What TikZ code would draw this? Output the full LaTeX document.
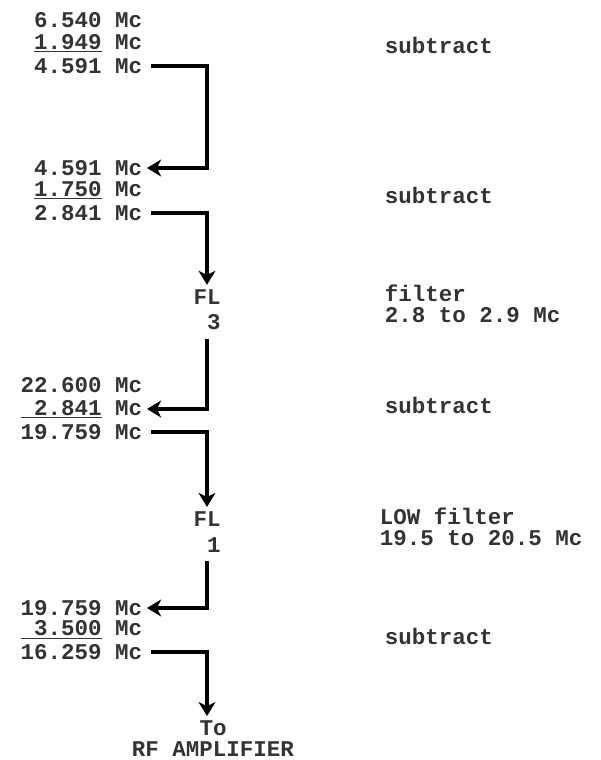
\documentclass[tikz,border=0pt]{standalone}
\usepackage{fontspec}
\newfontfamily\typer{Liberation Mono}
\usetikzlibrary{arrows.meta}
\tikzset{
  num/.style={anchor=east, font=\typer\bfseries\fontsize{16}{18}\selectfont, text=black!80},
  note/.style={anchor=west, align=left, font=\typer\bfseries\fontsize{16}{15}\selectfont, text=black!80},
  filt/.style={align=right, font=\typer\bfseries\fontsize{16}{18}\selectfont, text=black!80},
  flow/.style={line width=2.6pt, line join=miter, shorten <=3pt, -{Stealth[length=10pt,width=12pt,inset=3pt]}}
}

\begin{document}
\begin{tikzpicture}[x=0.025cm, y=-0.025cm]
                \useasboundingbox (0,0) rectangle (600,760);

                % First subtraction
                \node[num] (a1) at (147,20) {6.540 Mc};
                \node[num] (a2) at (147,43) {\underline{1.949} Mc};
                \node[num] (a3) at (147,66) {4.591 Mc};
                \node[note] (s1) at (380,45) {subtract};

                % Second subtraction
                \node[num] (b1) at (147,168) {4.591 Mc};
                \node[num] (b2) at (147,190) {\underline{1.750} Mc};
                \node[num] (b3) at (147,213) {2.841 Mc};
                \node[note] (s2) at (380,195) {subtract};

                % Filter 3
                \node[filt] (fl3) at (207,310) {FL\\3};
                \node[note] (n3) at (380,304) {filter\\2.8 to 2.9 Mc};

                % Third subtraction
                \node[num] (c1) at (147,385) {22.600 Mc};
                \node[num] (c2) at (147,409) {\underline{\phantom{0}2.841} Mc};
                \node[num] (c3) at (147,432) {19.759 Mc};
                \node[note] (s3) at (380,405) {subtract};

                % Filter 1
                \node[filt] (fl1) at (207,532) {FL\\1};
                \node[note] (n1) at (375,527) {LOW filter\\19.5 to 20.5 Mc};

                % Last subtraction
                \node[num] (d1) at (147,608) {19.759 Mc};
                \node[num] (d2) at (147,630) {\underline{\phantom{0}3.500} Mc};
                \node[num] (d3) at (147,652) {16.259 Mc};
                \node[note] (s4) at (380,636) {subtract};

                \node[filt, align=center] (out) at (213,739) {To\\[-3pt]RF AMPLIFIER};

                % Signal path
                \draw[flow] (a3.east) -- (a3.east -| fl3) -- (b1.east -| fl3) -- (b1.east);
                \draw[flow] (b3.east) -- (b3.east -| fl3) -- (fl3.north);
                \draw[flow] (fl3.south) -- (c2.east -| fl3) -- (c2.east);
                \draw[flow] (c3.east) -- (c3.east -| fl1) -- (fl1.north);
                \draw[flow] (fl1.south) -- (d1.east -| fl1) -- (d1.east);
                \draw[flow] (d3.east) -- (d3.east -| fl1) -- (out.north -| fl1);
            \end{tikzpicture}
\end{document}
